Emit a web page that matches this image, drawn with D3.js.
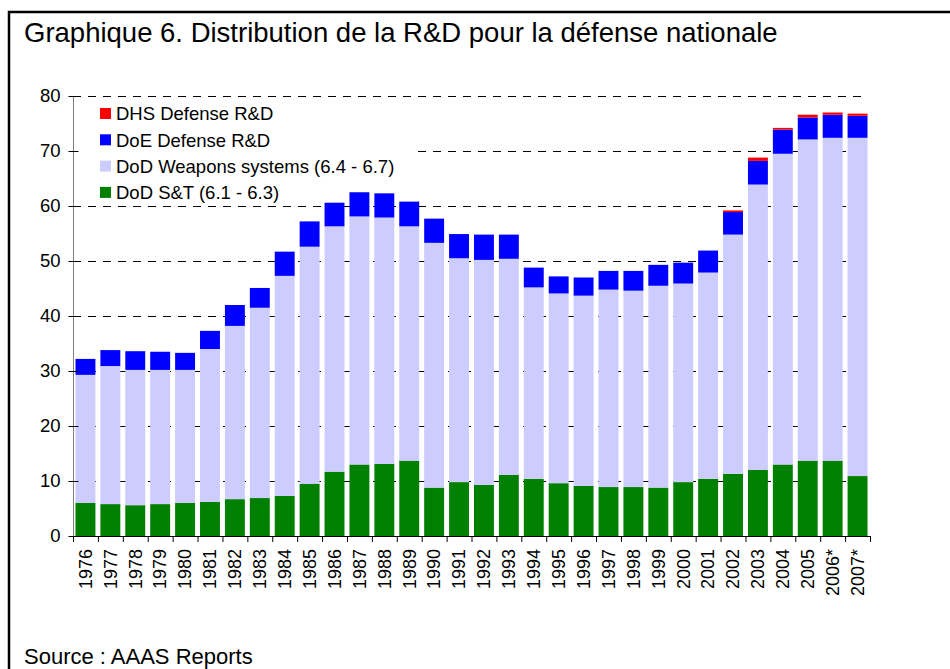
<!DOCTYPE html>
<html>
<head>
<meta charset="utf-8">
<script src="https://cdn.jsdelivr.net/npm/d3@7"></script>
<style>
  body { margin: 0; background: #fff; }
  text { font-family: Arial, "Liberation Sans", sans-serif; fill: #000; }
</style>
</head>
<body>
<div class="chart-container"></div>
<script>
// Data
const years = ["1976","1977","1978","1979","1980","1981","1982","1983","1984","1985","1986","1987","1988","1989","1990","1991",
  "1992","1993","1994","1995","1996","1997","1998","1999","2000","2001","2002","2003","2004","2005","2006*","2007*"];
const dodST = [6.0,5.8,5.6,5.8,6.0,6.2,6.7,6.9,7.3,9.5,11.7,13.0,13.1,13.7,8.8,9.8,
  9.3,11.1,10.4,9.6,9.1,8.9,8.9,8.8,9.8,10.4,11.3,12.0,13.0,13.7,13.7,10.9];
const dodWeapons = [23.3,25.1,24.6,24.4,24.2,27.8,31.5,34.6,40.0,43.1,44.6,45.1,44.8,42.6,44.5,40.7,
  40.9,39.3,34.8,34.5,34.6,35.9,35.7,36.7,36.1,37.5,43.5,51.9,56.5,58.4,58.7,61.5];
const doeDefense = [2.9,2.9,3.4,3.3,3.1,3.3,3.8,3.6,4.4,4.6,4.3,4.4,4.4,4.5,4.4,4.4,
  4.6,4.4,3.6,3.1,3.3,3.4,3.6,3.8,3.8,4.0,4.1,4.3,4.4,4.0,4.2,4.0];
const dhsDefense = [0,0,0,0,0,0,0,0,0,0,0,0,0,0,0,0,
  0,0,0,0,0,0,0,0,0,0,0.3,0.6,0.3,0.5,0.4,0.4];
const seriesNames = ["DoD S&T (6.1 - 6.3)", "DoD Weapons systems (6.4 - 6.7)", "DoE Defense R&D", "DHS Defense R&D"];
const yTicks = [0,10,20,30,40,50,60,70,80];

const width = 950, height = 669;
const svg = d3.select(".chart-container").append("svg")
  .attr("width", width).attr("height", height);

// Frame
svg.append("rect")
  .attr("x", 9).attr("y", 12).attr("width", 980).attr("height", 700)
  .attr("fill", "none").attr("stroke", "#000").attr("stroke-width", 2.5);

// Title
svg.append("text")
  .attr("x", 24).attr("y", 42)
  .style("font-size", "27.5px")
  .text("Graphique 6. Distribution de la R&D pour la défense nationale");

// Source
svg.append("text")
  .attr("x", 24).attr("y", 664)
  .style("font-size", "22px")
  .text("Source : AAAS Reports");

// Scales
const x = d3.scaleBand().domain(years).range([73, 870]).paddingInner(0.2).paddingOuter(0.1);
const y = d3.scaleLinear().domain([0, 80]).range([536, 96]);
const color = d3.scaleOrdinal().domain(seriesNames).range(["#008000", "#CCCCFF", "#0000FF", "#FF0000"]);

// Stack data
const table = years.map((yr, i) => ({
  year: yr,
  [seriesNames[0]]: dodST[i],
  [seriesNames[1]]: dodWeapons[i],
  [seriesNames[2]]: doeDefense[i],
  [seriesNames[3]]: dhsDefense[i]
}));
const stacked = d3.stack().keys(seriesNames)(table);

// Gridlines
svg.append("g")
  .selectAll("line")
  .data(yTicks.filter(d => d > 0))
  .enter().append("line")
  .attr("x1", 73).attr("x2", 866)
  .attr("y1", d => y(d) + 0.5).attr("y2", d => y(d) + 0.5)
  .attr("stroke", "#000").attr("stroke-width", 1)
  .attr("stroke-dasharray", "8,7");

// Legend background covering gridlines
svg.append("rect")
  .attr("x", 75).attr("y", 100).attr("width", 336).attr("height", 102)
  .attr("fill", "#fff");

// Bars
svg.append("g")
  .selectAll("g")
  .data(stacked)
  .enter().append("g")
  .attr("fill", d => color(d.key))
  .selectAll("rect")
  .data(d => d.filter(p => p[1] - p[0] > 0))
  .enter().append("rect")
  .attr("x", d => x(d.data.year))
  .attr("width", x.bandwidth())
  .attr("y", d => y(d[1]))
  .attr("height", d => y(d[0]) - y(d[1]));

// Y axis
const yAxis = svg.append("g").attr("transform", "translate(73.5,0)");
yAxis.append("line")
  .attr("y1", y(80)).attr("y2", y(0))
  .attr("stroke", "#808080");
yAxis.selectAll(".tick")
  .data(yTicks)
  .enter().append("line")
  .attr("x1", -5).attr("x2", 5)
  .attr("y1", d => y(d) + 0.5).attr("y2", d => y(d) + 0.5)
  .attr("stroke", "#000");
yAxis.selectAll("text")
  .data(yTicks)
  .enter().append("text")
  .attr("x", -13)
  .attr("y", d => y(d))
  .attr("dy", "0.35em")
  .attr("text-anchor", "end")
  .style("font-size", "18.5px")
  .text(d => d);

// X axis
const step = x.step();
const xAxis = svg.append("g");
xAxis.append("line")
  .attr("x1", 73).attr("x2", 870)
  .attr("y1", y(0) + 0.5).attr("y2", y(0) + 0.5)
  .attr("stroke", "#000");
xAxis.selectAll(".tick")
  .data(d3.range(years.length + 1))
  .enter().append("line")
  .attr("x1", i => 73.5 + i * step).attr("x2", i => 73.5 + i * step)
  .attr("y1", y(0)).attr("y2", y(0) + 6)
  .attr("stroke", "#000");
xAxis.selectAll("text")
  .data(years)
  .enter().append("text")
  .attr("transform", d => `translate(${x(d) + x.bandwidth() / 2},${y(0) + 13}) rotate(-90)`)
  .attr("dy", "0.35em")
  .attr("text-anchor", "end")
  .style("font-size", "18px")
  .text(d => d);

// Legend
const legendOrder = seriesNames.slice().reverse();
const legend = svg.append("g");
legend.selectAll("rect")
  .data(legendOrder)
  .enter().append("rect")
  .attr("x", 100).attr("y", (d, i) => 108 + i * 26.3)
  .attr("width", 11).attr("height", 11)
  .attr("fill", d => color(d));
legend.selectAll("text")
  .data(legendOrder)
  .enter().append("text")
  .attr("x", 116).attr("y", (d, i) => 114 + i * 26.3)
  .attr("dy", "0.35em")
  .style("font-size", "18.5px")
  .text(d => d);
</script>
</body>
</html>
